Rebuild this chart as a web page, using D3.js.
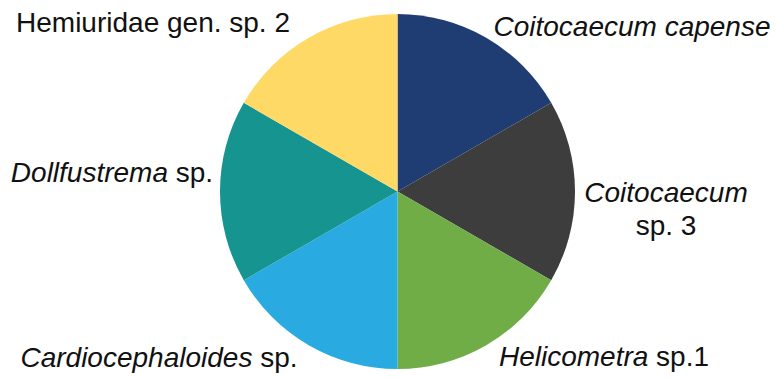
<!DOCTYPE html>
<html>
<head>
<meta charset="utf-8">
<script src="https://cdn.jsdelivr.net/npm/d3@7"></script>
<style>
  html, body { margin: 0; padding: 0; background: #ffffff; }
  svg { display: block; }
  text { font-family: "Liberation Sans", Arial, sans-serif; fill: #111; }
</style>
</head>
<body>
<svg id="chart" width="776" height="378"></svg>
<script>
// Taxa, clockwise from 12 o'clock
const taxa = [
  "Coitocaecum capense",
  "Coitocaecum sp. 3",
  "Helicometra sp.1",
  "Cardiocephaloides sp.",
  "Dollfustrema sp.",
  "Hemiuridae gen. sp. 2"
];
// Each taxon has an equal share
const shares = [1, 1, 1, 1, 1, 1];
const sliceColors = ["#1f3d73", "#3d3d3d", "#70ad47", "#29abe2", "#16948f", "#ffd966"];

// Label lines: [text, italic?] segments, one array per line
const labelLines = [
  [[["Coitocaecum capense", true]]],
  [[["Coitocaecum", true]], [["sp. 3", false]]],
  [[["Helicometra", true], [" sp.1", false]]],
  [[["Cardiocephaloides", true], [" sp.", false]]],
  [[["Dollfustrema", true], [" sp.", false]]],
  [[["Hemiuridae gen. sp. 2", false]]]
];

// Label anchor points (centre x, first baseline y)
const labelLayout = [
  { x: 632, y: 36 },
  { x: 666, y: 202 },
  { x: 604, y: 366 },
  { x: 159, y: 367 },
  { x: 112, y: 182 },
  { x: 153, y: 32 }
];

const svg = d3.select("#chart");
const cx = 397.5, cy = 191.5, radius = 177.5;

const pie = d3.pie().sort(null).value(d => d)(shares);
const arc = d3.arc().innerRadius(0).outerRadius(radius);

const g = svg.append("g").attr("transform", `translate(${cx},${cy})`);
g.selectAll("path")
  .data(pie)
  .join("path")
  .attr("d", arc)
  .attr("fill", (d, i) => sliceColors[i]);

const fontSize = 28, lineGap = 33;
labelLines.forEach((lines, i) => {
  const pos = labelLayout[i];
  lines.forEach((segs, j) => {
    const t = svg.append("text")
      .attr("x", pos.x)
      .attr("y", pos.y + j * lineGap)
      .attr("text-anchor", "middle")
      .style("font-size", fontSize + "px");
    segs.forEach(([s, it]) => {
      t.append("tspan")
        .style("font-style", it ? "italic" : "normal")
        .text(s);
    });
  });
});
</script>
</body>
</html>
